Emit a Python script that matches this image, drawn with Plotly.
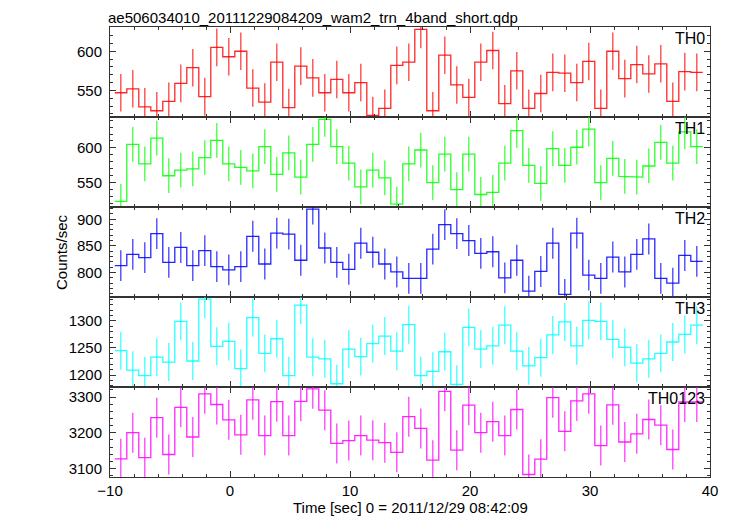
import plotly.graph_objects as go
from plotly.subplots import make_subplots

# Bin centres (s), bin width 1 s
time = [-9.1, -8.1, -7.1, -6.1, -5.1, -4.1, -3.1, -2.1, -1.1, -0.1,
        0.9, 1.9, 2.9, 3.9, 4.9, 5.9, 6.9, 7.9, 8.9, 9.9,
        10.9, 11.9, 12.9, 13.9, 14.9, 15.9, 16.9, 17.9, 18.9, 19.9,
        20.9, 21.9, 22.9, 23.9, 24.9, 25.9, 26.9, 27.9, 28.9, 29.9,
        30.9, 31.9, 32.9, 33.9, 34.9, 35.9, 36.9, 37.9, 38.9]
bin_width = 1.0

th0 = [547, 552, 529, 524, 536, 559, 579, 542, 605, 593, 600, 553, 535, 586, 528, 581, 566, 547, 564, 547,
       560, 518, 527, 582, 586, 628, 524, 595, 557, 541, 586, 601, 533, 575, 527, 546, 573, 572, 560, 587,
       527, 600, 565, 583, 571, 584, 536, 574, 573]
th1 = [523, 605, 577, 614, 560, 568, 570, 586, 611, 577, 572, 567, 602, 562, 593, 558, 605, 641, 602, 578,
       544, 568, 557, 519, 577, 597, 550, 591, 540, 591, 533, 536, 578, 625, 575, 549, 599, 575, 601, 627,
       550, 585, 559, 558, 574, 608, 578, 623, 602]
th2 = [813, 834, 828, 873, 819, 847, 813, 841, 811, 805, 811, 868, 816, 874, 872, 823, 919, 846, 819, 806,
       855, 838, 816, 801, 789, 789, 844, 890, 873, 860, 836, 839, 790, 823, 765, 802, 855, 759, 874, 795,
       789, 829, 801, 834, 863, 789, 780, 832, 821]
th3 = [1245, 1209, 1199, 1233, 1224, 1299, 1226, 1340, 1253, 1262, 1212, 1306, 1240, 1267, 1199, 1329, 1233,
       1230, 1184, 1248, 1234, 1258, 1272, 1244, 1293, 1199, 1207, 1243, 1183, 1288, 1248, 1254, 1292, 1244,
       1217, 1232, 1274, 1298, 1254, 1301, 1299, 1266, 1251, 1222, 1230, 1240, 1261, 1275, 1292]
th0123 = [3127, 3200, 3130, 3242, 3139, 3271, 3188, 3309, 3279, 3236, 3194, 3292, 3192, 3287, 3192, 3288,
          3323, 3263, 3170, 3178, 3192, 3179, 3172, 3145, 3245, 3212, 3123, 3316, 3151, 3277, 3200, 3231,
          3192, 3265, 3083, 3126, 3298, 3204, 3289, 3309, 3164, 3278, 3174, 3197, 3237, 3221, 3153, 3286, 3286]

# approximate 1-sigma error per band (counts/sec)
errors = [24, 25, 29, 35, 56]
labels = ["TH0", "TH1", "TH2", "TH3", "TH0123"]
colors = ["#ff0000", "#00ff00", "#0000ff", "#00ffff", "#ff00ff"]
series = [th0, th1, th2, th3, th0123]
y_ranges = [[516, 631], [515, 644.5], [754, 923], [1178, 1344], [3076, 3328]]
y_dticks = [50, 50, 50, 50, 100]
y_minor = [10, 10, 10, 10, 20]

title = "ae506034010_20111229084209_wam2_trn_4band_short.qdp"
x_title = "Time [sec] 0 = 2011/12/29 08:42:09"
y_title = "Counts/sec"

FONT = "Liberation Sans, Arial, Helvetica, sans-serif"
AXC = "#333333"

fig = make_subplots(rows=5, cols=1, shared_xaxes=True, vertical_spacing=0)

for i, (vals, col, err) in enumerate(zip(series, colors, errors)):
    sx, sy = [], []
    for t, v in zip(time, vals):
        sx += [t - bin_width / 2, t + bin_width / 2]
        sy += [v, v]
    fig.add_trace(go.Scatter(x=sx, y=sy, mode="lines",
                             line=dict(color=col, width=1.3), opacity=0.85,
                             hoverinfo="skip", showlegend=False), row=i + 1, col=1)
    fig.add_trace(go.Scatter(x=time, y=vals, mode="markers",
                             marker=dict(size=0.1, color=col, opacity=0),
                             error_y=dict(type="constant", value=err, width=0,
                                          thickness=1.3, color=col),
                             opacity=0.75, showlegend=False), row=i + 1, col=1)
    fig.update_yaxes(range=y_ranges[i], dtick=y_dticks[i],
                     minor=dict(dtick=y_minor[i], ticklen=3, ticks="inside", tickcolor=AXC, tickwidth=1),
                     row=i + 1, col=1)
    fig.add_annotation(text=labels[i], xref=f"x{'' if i == 0 else i + 1} domain",
                       yref=f"y{'' if i == 0 else i + 1} domain",
                       x=0.995, y=0.985, xanchor="right", yanchor="top", showarrow=False,
                       font=dict(family=FONT, size=16, color="black"))

fig.update_xaxes(range=[-10, 40], dtick=10, ticks="inside", ticklen=6, tickwidth=1, tickcolor=AXC,
                 minor=dict(dtick=2, ticklen=3, ticks="inside", tickcolor=AXC, tickwidth=1),
                 showline=True, linecolor=AXC, linewidth=1, mirror="allticks",
                 showgrid=False, zeroline=False)
fig.update_yaxes(ticks="inside", ticklen=6, tickwidth=1, tickcolor=AXC,
                 showline=True, linecolor=AXC, linewidth=1, mirror="allticks",
                 showgrid=False, zeroline=False, ticklabelstandoff=4)
fig.update_xaxes(showticklabels=True, row=5, col=1)

fig.add_annotation(text=title, xref="paper", yref="paper", x=-0.005, y=1.0, yshift=0,
                   xanchor="left", yanchor="bottom", showarrow=False, borderpad=0,
                   font=dict(family=FONT, size=15, color="black"))
fig.add_annotation(text=x_title, xref="paper", yref="paper", x=0.5, y=0, yshift=-20,
                   xanchor="center", yanchor="top", showarrow=False,
                   font=dict(family=FONT, size=15, color="black"))
fig.add_annotation(text=y_title, xref="paper", yref="paper", x=0, xshift=-49, y=0.5,
                   xanchor="center", yanchor="middle", textangle=-90, showarrow=False,
                   font=dict(family=FONT, size=15, color="black"))

fig.update_layout(width=723, height=508, autosize=False,
                  margin=dict(l=102, r=21, t=19, b=39),
                  paper_bgcolor="white", plot_bgcolor="white",
                  font=dict(family=FONT, size=15, color="black"),
                  showlegend=False)

fig.write_html("out.html")
